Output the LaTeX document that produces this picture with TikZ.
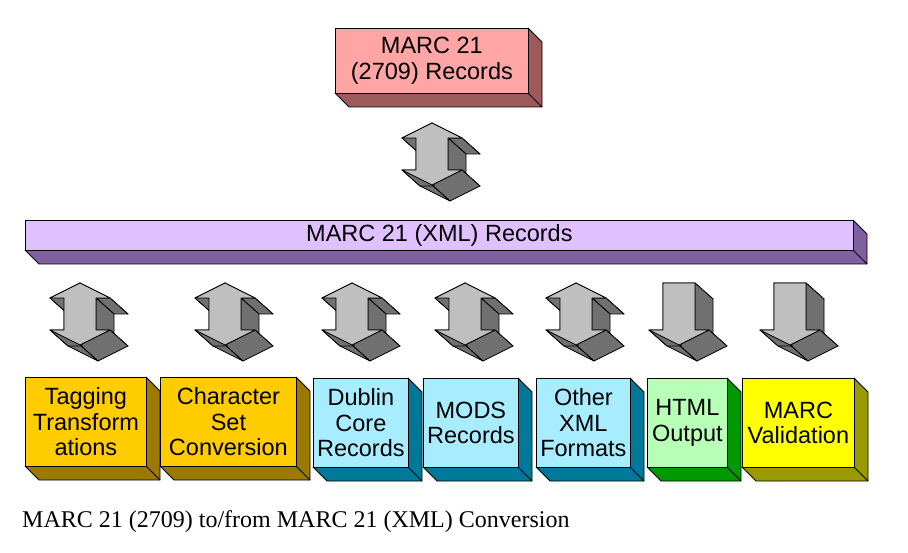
\documentclass[tikz,border=0pt]{standalone}
\usepackage{fontspec}
\setmainfont{Liberation Sans}
\newfontfamily\capfont{Liberation Serif}
\begin{document}
\begin{tikzpicture}[x=1pt,y=-1pt,line join=round,
  edge/.style={draw=black,line width=0.8pt},
  boxtext/.style={font=\fontsize{23.5}{25.5}\selectfont,align=center,inner sep=0pt},
  arrowfront/.style={edge,fill=gray!50},
  arrowside/.style={edge,fill={rgb,255:red,112;green,112;blue,112}}]
\useasboundingbox (0,0) rectangle (908,553);
% 3D box: x1, name, y1, x2, y2, front, side, text
\newcommand\tdbox[8]{%
  \fill[#7,edge] (#4,#3)--(#4+14,#3+14)--(#4+14,#5+14)--(#1+14,#5+14)--(#1,#5)--(#4,#5)--cycle;
  \draw[edge] (#4,#5)--(#4+14,#5+14);
  \node[edge,fill=#6,boxtext,minimum width=#4-#1,minimum height=#5-#3,anchor=north west] (#2) at (#1,#3) {};
  \node[boxtext] at (#2.center) {#8};}
\newcommand\arrowshape[3]{%
  \begin{scope}[shift={(#1,#2)}]
  \foreach \ax/\ay/\bx/\by in {#3}{
    \filldraw[arrowside] (\ax,\ay)--(\bx,\by)--(\bx+18,\by+16)--(\ax+18,\ay+16)--cycle;}
  \end{scope}}
\newcommand\udarrow[2]{%
  \arrowshape{#1}{#2}{0/0/30/15, 30/15/16/15, 16/15/16/47, 16/47/30/47, 30/47/0/62, 0/62/-30/47, -30/47/-16/47, -16/47/-16/15, -16/15/-30/15, -30/15/0/0}
  \filldraw[arrowfront,shift={(#1,#2)}] (0,0)--(30,15)--(16,15)--(16,47)--(30,47)--(0,62)--(-30,47)--(-16,47)--(-16,15)--(-30,15)--cycle;}
\newcommand\dnarrow[2]{%
  \arrowshape{#1}{#2}{-16/0/16/0, 16/0/16/47, 16/47/30/47, 30/47/0/62, 0/62/-30/47, -30/47/-16/47, -16/47/-16/0}
  \filldraw[arrowfront,shift={(#1,#2)}] (-16,0)--(16,0)--(16,47)--(30,47)--(0,62)--(-30,47)--(-16,47)--cycle;}

\definecolor{pinkf}{RGB}{255,165,165}\definecolor{pinks}{RGB}{158,90,90}
\definecolor{purf}{RGB}{224,192,255}\definecolor{purs}{RGB}{128,96,160}
\definecolor{orf}{RGB}{255,204,0}\definecolor{ors}{RGB}{156,122,0}
\definecolor{cyf}{RGB}{168,236,255}\definecolor{cys}{RGB}{0,120,152}
\definecolor{grf}{RGB}{184,255,184}\definecolor{grs}{RGB}{0,153,0}
\definecolor{yef}{RGB}{255,255,0}\definecolor{yes}{RGB}{153,153,0}

\tdbox{335}{m2709}{28}{528}{93}{pinkf}{pinks}{MARC 21\\(2709) Records}
\tdbox{25}{xml}{220}{853}{250}{purf}{purs}{MARC 21 (XML) Records}
\tdbox{25}{tag}{377}{146}{466}{orf}{ors}{Tagging\\Transform\\ations}
\tdbox{160}{chr}{377}{296}{466}{orf}{ors}{Character\\Set\\Conversion}
\tdbox{313}{dc}{378}{408}{467}{cyf}{cys}{Dublin\\Core\\Records}
\tdbox{423}{mods}{378}{518}{467}{cyf}{cys}{MODS\\Records}
\tdbox{536}{oth}{378}{630}{467}{cyf}{cys}{Other\\XML\\Formats}
\tdbox{647}{html}{378}{727}{467}{grf}{grs}{HTML\\Output}
\tdbox{742}{val}{378}{854}{467}{yef}{yes}{MARC\\Validation}

\udarrow{432}{123}
\udarrow{80}{283}
\udarrow{225}{283}
\udarrow{352}{283}
\udarrow{465}{283}
\udarrow{576}{283}
\dnarrow{679}{283}
\dnarrow{790}{283}

\node[anchor=west,inner sep=0pt,font=\capfont\fontsize{24}{26}\selectfont] (cap) at (22,522) {MARC 21 (2709) to/from MARC 21 (XML) Conversion};
\end{tikzpicture}
\end{document}
